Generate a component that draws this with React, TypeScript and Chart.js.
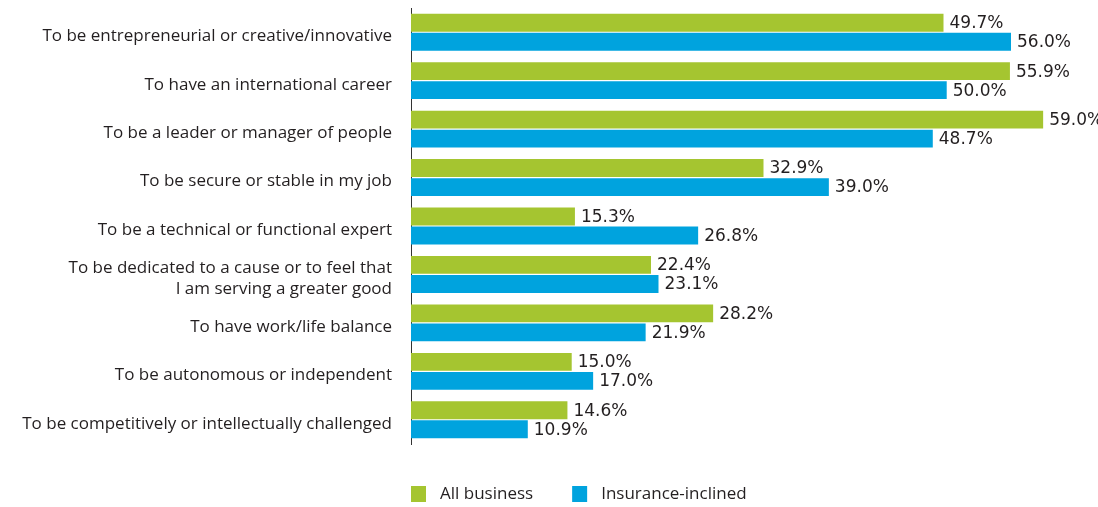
import React, { useEffect, useRef } from "react";
import { Chart, registerables } from "chart.js";

Chart.register(...registerables);

const categories: (string | string[])[] = [
  "To be entrepreneurial or creative/innovative",
  "To have an international career",
  "To be a leader or manager of people",
  "To be secure or stable in my job",
  "To be a technical or functional expert",
  ["To be dedicated to a cause or to feel that", "I am serving a greater good"],
  "To have work/life balance",
  "To be autonomous or independent",
  "To be competitively or intellectually challenged",
];

const allBusiness = [49.7, 55.9, 59.0, 32.9, 15.3, 22.4, 28.2, 15.0, 14.6];
const insuranceInclined = [56.0, 50.0, 48.7, 39.0, 26.8, 23.1, 21.9, 17.0, 10.9];

const seriesNames = ["All business", "Insurance-inclined"];
const seriesColors = ["#a5c530", "#00a3de"];

const FONT = "'Open Sans', 'Noto Sans', sans-serif";
const VALUE_FONT = "'DejaVu Sans', 'Open Sans', sans-serif";
const TEXT_COLOR = "#231f20";

const valueLabels = {
  id: "valueLabels",
  afterDatasetsDraw(chart: any) {
    const ctx = chart.ctx;
    ctx.save();
    ctx.font = `17px ${VALUE_FONT}`;
    ctx.fillStyle = TEXT_COLOR;
    ctx.textAlign = "left";
    ctx.textBaseline = "middle";
    chart.data.datasets.forEach((ds: any, di: number) => {
      const meta = chart.getDatasetMeta(di);
      meta.data.forEach((bar: any, i: number) => {
        const v = ds.data[i] as number;
        ctx.fillText(v.toFixed(1) + "%", bar.x + 6, bar.y + 1);
      });
    });
    ctx.restore();
  },
};

const customLegend = {
  id: "customLegend",
  afterDraw(chart: any) {
    const ctx = chart.ctx;
    const area = chart.chartArea;
    ctx.save();
    ctx.font = `17px ${FONT}`;
    ctx.textBaseline = "middle";
    ctx.textAlign = "left";
    let x = area.left;
    const y = area.bottom + 42;
    chart.data.datasets.forEach((ds: any) => {
      ctx.fillStyle = ds.backgroundColor;
      ctx.fillRect(x, y, 15, 16);
      ctx.fillStyle = TEXT_COLOR;
      const tx = x + 29;
      ctx.fillText(ds.label, tx, y + 8);
      x = tx + ctx.measureText(ds.label).width + 39;
    });
    ctx.restore();
  },
};

export default function App() {
  const ref = useRef<HTMLCanvasElement | null>(null);

  useEffect(() => {
    if (!ref.current) return;
    const chart = new Chart(ref.current, {
      type: "bar",
      data: {
        labels: categories,
        datasets: [
          {
            label: seriesNames[0],
            data: allBusiness,
            backgroundColor: seriesColors[0],
            categoryPercentage: 0.785,
            barPercentage: 0.94,
          },
          {
            label: seriesNames[1],
            data: insuranceInclined,
            backgroundColor: seriesColors[1],
            categoryPercentage: 0.785,
            barPercentage: 0.94,
          },
        ],
      },
      options: {
        indexAxis: "y",
        animation: false,
        responsive: true,
        maintainAspectRatio: false,
        layout: { padding: { top: 8, right: 42, bottom: 63, left: 0 } },
        plugins: {
          legend: { display: false },
          tooltip: { enabled: false },
        },
        scales: {
          x: {
            display: false,
            min: 0,
            max: 60.2,
          },
          y: {
            afterFit: (scale: any) => {
              scale.width = 411;
              scale.paddingTop = 0;
              scale.paddingBottom = 0;
            },
            grid: { display: false, drawTicks: false },
            border: { display: true, color: "#333333", width: 1 },
            ticks: {
              padding: 19,
              labelOffset: 4,
              color: TEXT_COLOR,
              font: { family: FONT, size: 17, lineHeight: 1.25 },
            },
          },
        },
      },
      plugins: [valueLabels, customLegend],
    });
    return () => chart.destroy();
  }, []);

  return (
    <div style={{ position: "fixed", left: 0, top: 0, width: 1098, height: 507, background: "#fff" }}>
      <canvas ref={ref} />
    </div>
  );
}
